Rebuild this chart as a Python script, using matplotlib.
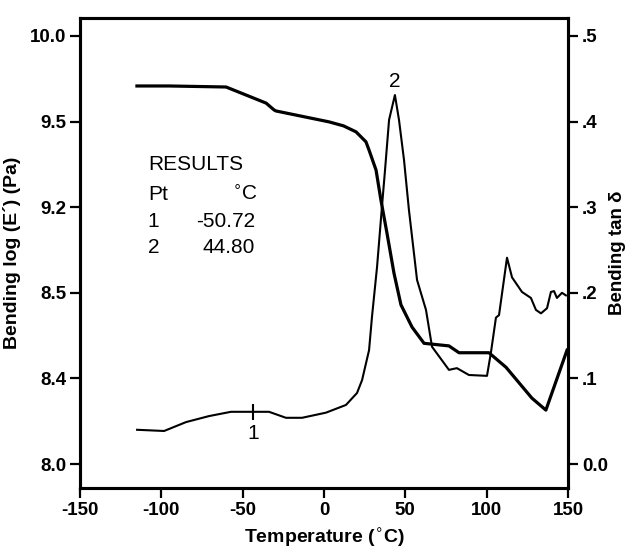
import numpy as np
import matplotlib
matplotlib.use("Agg")
import matplotlib.pyplot as plt
from matplotlib.ticker import FixedLocator, FixedFormatter

plt.rcParams['font.family'] = ['Liberation Sans', 'DejaVu Sans']

# ---- data ----
temp_E = [-115, -95.3, -60.2, -35.6, -30.7, -29.5, 3.1, 12.0, 19.7, 25.8, 27.7, 32.0, 35.0,
          38.7, 43.0, 47.3, 54.1, 61.5, 76.8, 83.0, 101.4, 111.9, 127.8, 136.4, 149.4]
logE = [9.708, 9.708, 9.702, 9.608, 9.568, 9.562, 9.499, 9.485, 9.464, 9.429, 9.400, 9.330, 9.225,
        8.989, 8.662, 8.486, 8.460, 8.441, 8.438, 8.430, 8.430, 8.413, 8.308, 8.252, 8.433]

temp_tan = [-114.9, -98.3, -84.8, -70.7, -57.2, -44.3, -33.8, -23.4, -13.5, 1.2, 13.5, 20.3,
            23.4, 27.7, 29.5, 32.6, 35.6, 37.5, 40.0, 43.6, 46.1, 49.2, 52.2, 57.2, 62.7,
            66.4, 76.8, 81.7, 89.1, 100.2, 102.6, 105.7, 107.6, 112.5, 115.6, 121.7, 127.2,
            130.3, 133.4, 137.1, 139.5, 141.4, 143.2, 146.3, 148.7]
tan_delta = [0.040, 0.0386, 0.049, 0.056, 0.061, 0.061, 0.061, 0.054, 0.054, 0.060, 0.069, 0.083,
             0.098, 0.133, 0.172, 0.230, 0.300, 0.343, 0.402, 0.431, 0.402, 0.355, 0.297, 0.215, 0.180,
             0.137, 0.110, 0.112, 0.104, 0.103, 0.130, 0.171, 0.174, 0.241, 0.218, 0.201, 0.194,
             0.180, 0.176, 0.182, 0.201, 0.202, 0.194, 0.200, 0.197]

left_ticks = [8.0, 8.4, 8.5, 9.2, 9.5, 10.0]
left_labels = ['8.0', '8.4', '8.5', '9.2', '9.5', '10.0']
right_ticks = [0.0, 0.1, 0.2, 0.3, 0.4, 0.5]
right_labels = ['0.0', '.1', '.2', '.3', '.4', '.5']
x_ticks = [-150, -100, -50, 0, 50, 100, 150]

results_pts = ['1', '2']
results_temps = ['-50.72', '44.80']
marker1 = (-43.6, 0.061)
marker2 = (43.6, 0.431)

# piecewise mapping of the (non-uniform) left axis onto the right axis positions
_vals = np.array([6.0] + left_ticks + [12.0])
_pos = np.array([-0.5, 0.0, 0.1, 0.2, 0.3, 0.4, 0.5, 0.9])

def fwd(v):
    return np.interp(v, _vals, _pos)

def inv(p):
    return np.interp(p, _pos, _vals)

fig = plt.figure(figsize=(6.3, 5.59), dpi=100)
ax = fig.add_axes([80/630, 1-488/559, 488/630, 470/559])
ax2 = ax.twinx()

ylo, yhi = -0.028, 0.521
ax2.set_ylim(ylo, yhi)
ax.set_yscale('function', functions=(fwd, inv))
ax.set_ylim(inv(ylo), inv(yhi))
ax.set_xlim(-150, 150)

ax.plot(temp_E, logE, color='black', lw=2.3, solid_joinstyle='round')
ax2.plot(temp_tan, tan_delta, color='black', lw=1.5, solid_joinstyle='round')

# markers
ax2.plot([marker1[0]], [marker1[1]], marker='|', color='black', ms=11, mew=1.5)
ax2.annotate('1', xy=marker1, xytext=(0, -9), textcoords='offset points',
             ha='center', va='top', fontsize=15)
ax2.annotate('2', xy=marker2, xytext=(0, 3), textcoords='offset points',
             ha='center', va='bottom', fontsize=15)

# results block
tkw = dict(transform=ax.transAxes, fontsize=15, va='baseline')
ax.text(0.139, 0.677, 'RESULTS', ha='left', **tkw)
ax.text(0.139, 0.613, 'Pt', ha='left', **tkw)
ax.text(0.365, 0.613, '$^{\\circ}$C', ha='right', **tkw)
ys = [0.555, 0.500]
for yy, p, t in zip(ys, results_pts, results_temps):
    ax.text(0.139, yy, p, ha='left', **tkw)
    ax.text(0.359, yy, t, ha='right', **tkw)

# ticks
ax.yaxis.set_major_locator(FixedLocator(left_ticks))
ax.yaxis.set_major_formatter(FixedFormatter(left_labels))
ax.yaxis.set_minor_locator(FixedLocator([]))
ax2.yaxis.set_major_locator(FixedLocator(right_ticks))
ax2.yaxis.set_major_formatter(FixedFormatter(right_labels))
ax.set_xticks(x_ticks)
ax.set_xticklabels([str(v) for v in x_ticks])

for a in (ax, ax2):
    for s in a.spines.values():
        s.set_linewidth(2.2)
    a.tick_params(direction='out', length=7, width=1.6, labelsize=13.5, pad=3)
    for lab in a.get_xticklabels() + a.get_yticklabels():
        lab.set_fontweight('bold')

ax.set_xlabel('Temperature ($^{\\circ}$C)', fontsize=14, fontweight='bold', labelpad=6)
ax.set_ylabel('Bending log (E´) (Pa)', fontsize=14, fontweight='bold', labelpad=6)
ax2.set_ylabel('Bending tan δ', fontsize=13.5, fontweight='bold', labelpad=1)

fig.savefig('out.png', dpi=100)
